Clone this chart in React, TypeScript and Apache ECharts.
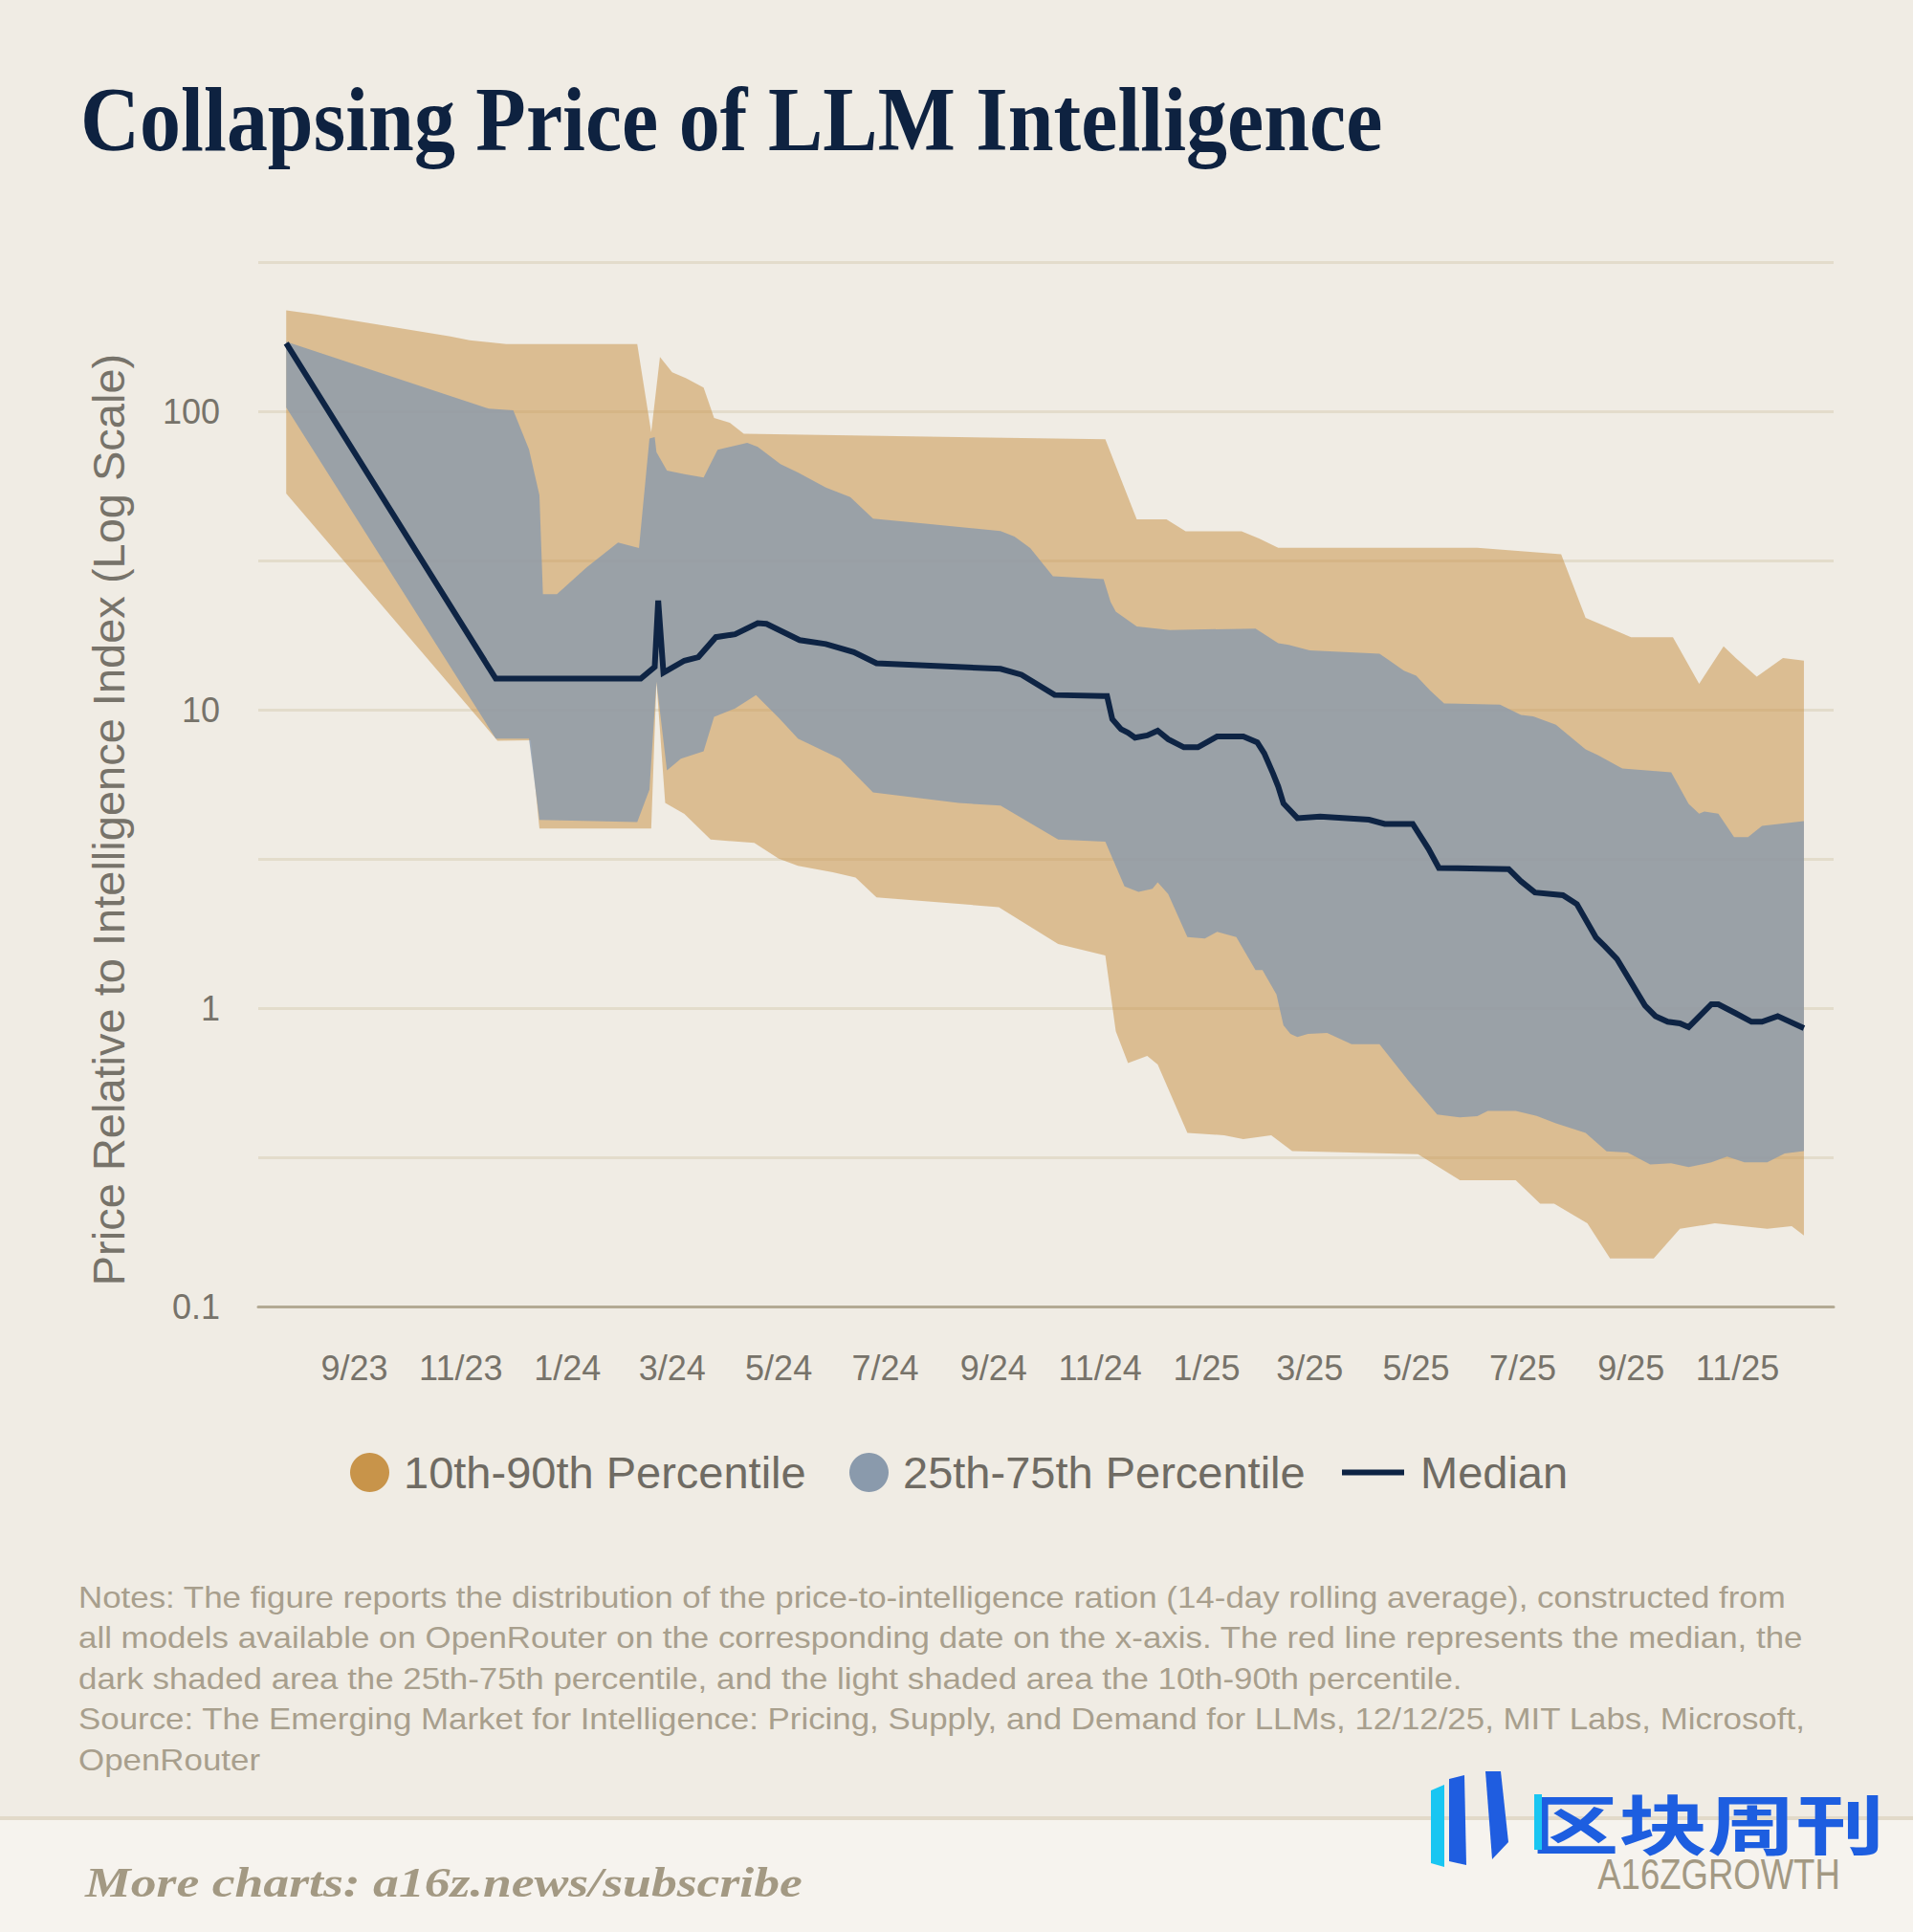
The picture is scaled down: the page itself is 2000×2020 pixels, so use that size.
import React, { useEffect, useRef } from "react";
import * as echarts from "echarts";

// ---- data (date, value) ----
const p90: [string, number][] = [
  ["2023-07-24", 218], ["2023-08-10", 211], ["2023-10-26", 178], ["2023-11-06", 173],
  ["2023-11-27", 168], ["2024-02-10", 168], ["2024-02-18", 85], ["2024-02-23", 152],
  ["2024-03-01", 135], ["2024-03-09", 129], ["2024-03-19", 120], ["2024-03-25", 95],
  ["2024-04-03", 91.6], ["2024-04-11", 84], ["2024-11-04", 80.6], ["2024-11-22", 43.4],
  ["2024-12-09", 43.4], ["2024-12-20", 39.6], ["2025-01-21", 39.6], ["2025-01-31", 37.5],
  ["2025-02-11", 34.9], ["2025-06-05", 34.9], ["2025-07-23", 33.2], ["2025-08-06", 20.3],
  ["2025-08-26", 18.1], ["2025-09-01", 17.5], ["2025-09-25", 17.5], ["2025-10-10", 12.2],
  ["2025-10-24", 16.3], ["2025-10-31", 14.9], ["2025-11-12", 12.9], ["2025-11-27", 14.9],
  ["2025-12-09", 14.6],
];

const p75: [string, number][] = [
  ["2023-07-24", 171], ["2023-11-17", 102], ["2023-12-01", 100.7], ["2023-12-10", 74.6],
  ["2023-12-16", 52.3], ["2023-12-18", 24.4], ["2023-12-26", 24.4], ["2024-01-12", 30],
  ["2024-01-30", 36.3], ["2024-02-11", 34.8], ["2024-02-17", 81], ["2024-02-20", 82],
  ["2024-02-21", 73], ["2024-02-27", 63.3], ["2024-03-08", 61.5], ["2024-03-19", 60],
  ["2024-03-27", 74.3], ["2024-04-13", 78.4], ["2024-04-19", 76], ["2024-05-02", 66.5],
  ["2024-05-12", 62.4], ["2024-05-28", 55.5], ["2024-06-11", 51.6], ["2024-06-24", 43.7],
  ["2024-07-24", 42], ["2024-09-05", 39.7], ["2024-09-13", 38], ["2024-09-22", 34.8],
  ["2024-10-05", 28], ["2024-11-03", 27.4], ["2024-11-07", 23], ["2024-11-10", 21.3],
  ["2024-11-22", 19], ["2024-12-11", 18.5], ["2025-01-29", 18.7], ["2025-02-11", 16.7],
  ["2025-02-17", 16.5], ["2025-03-01", 15.8], ["2025-04-10", 15.4], ["2025-04-15", 14.7],
  ["2025-04-24", 13.5], ["2025-05-01", 13], ["2025-05-09", 11.6], ["2025-05-17", 10.5],
  ["2025-06-18", 10.4], ["2025-06-30", 9.6], ["2025-07-07", 9.5], ["2025-07-20", 8.9],
  ["2025-08-06", 7.36], ["2025-08-13", 7.04], ["2025-08-27", 6.35], ["2025-09-24", 6.17],
  ["2025-10-04", 4.83], ["2025-10-10", 4.48], ["2025-10-13", 4.56], ["2025-10-21", 4.48],
  ["2025-10-30", 3.74], ["2025-11-07", 3.74], ["2025-11-15", 4.08], ["2025-12-09", 4.23],
];

const median: [string, number][] = [
  ["2023-07-24", 169], ["2023-11-21", 12.7], ["2024-02-12", 12.7], ["2024-02-20", 13.9],
  ["2024-02-22", 23.2], ["2024-02-25", 13.3], ["2024-03-08", 14.6], ["2024-03-16", 15.0],
  ["2024-03-26", 17.5], ["2024-04-06", 17.9], ["2024-04-19", 19.5], ["2024-04-24", 19.4],
  ["2024-05-13", 17.1], ["2024-05-28", 16.6], ["2024-06-13", 15.6], ["2024-06-26", 14.3],
  ["2024-09-05", 13.7], ["2024-09-17", 13.1], ["2024-10-06", 11.2], ["2024-11-03", 11.1],
  ["2024-11-05", 11.1], ["2024-11-08", 9.3], ["2024-11-13", 8.6], ["2024-11-17", 8.37],
  ["2024-11-21", 8.06], ["2024-11-28", 8.2], ["2024-12-04", 8.5], ["2024-12-10", 7.96],
  ["2024-12-19", 7.48], ["2024-12-27", 7.48], ["2025-01-07", 8.13], ["2025-01-22", 8.13],
  ["2025-01-30", 7.77], ["2025-02-03", 7.14], ["2025-02-08", 6.12], ["2025-02-11", 5.53],
  ["2025-02-14", 4.85], ["2025-02-22", 4.33], ["2025-03-07", 4.38], ["2025-04-04", 4.28],
  ["2025-04-13", 4.14], ["2025-04-29", 4.14], ["2025-05-08", 3.42], ["2025-05-14", 2.95],
  ["2025-06-23", 2.92], ["2025-06-30", 2.66], ["2025-07-08", 2.44], ["2025-07-24", 2.39],
  ["2025-08-01", 2.23], ["2025-08-12", 1.72], ["2025-08-17", 1.61], ["2025-08-24", 1.46],
  ["2025-09-09", 1.02], ["2025-09-15", 0.94], ["2025-09-22", 0.9], ["2025-09-29", 0.889],
  ["2025-10-04", 0.863], ["2025-10-17", 1.03], ["2025-10-21", 1.03], ["2025-10-31", 0.96],
  ["2025-11-09", 0.9], ["2025-11-15", 0.9], ["2025-11-24", 0.94], ["2025-12-09", 0.857],
];

const p25: [string, number][] = [
  ["2023-07-24", 103], ["2023-11-21", 8.0], ["2023-12-10", 8.0], ["2023-12-16", 4.27],
  ["2024-02-10", 4.2], ["2024-02-17", 5.4], ["2024-02-21", 12.4], ["2024-02-27", 6.26],
  ["2024-03-06", 6.85], ["2024-03-19", 7.26], ["2024-03-25", 9.46], ["2024-04-06", 10.1],
  ["2024-04-18", 11.2], ["2024-05-01", 9.4], ["2024-05-12", 8.0], ["2024-06-05", 6.85],
  ["2024-06-24", 5.28], ["2024-08-12", 4.87], ["2024-09-05", 4.77], ["2024-10-08", 3.67],
  ["2024-11-04", 3.61], ["2024-11-15", 2.56], ["2024-11-23", 2.45], ["2024-12-01", 2.51],
  ["2024-12-04", 2.64], ["2024-12-10", 2.41], ["2024-12-21", 1.73], ["2024-12-31", 1.71],
  ["2025-01-07", 1.8], ["2025-01-18", 1.73], ["2025-01-29", 1.34], ["2025-02-02", 1.34],
  ["2025-02-10", 1.11], ["2025-02-14", 0.875], ["2025-02-18", 0.82], ["2025-02-22", 0.8],
  ["2025-02-28", 0.82], ["2025-03-11", 0.826], ["2025-03-25", 0.757], ["2025-04-10", 0.757],
  ["2025-04-27", 0.566], ["2025-05-13", 0.44], ["2025-05-26", 0.43], ["2025-06-05", 0.434],
  ["2025-06-11", 0.452], ["2025-06-27", 0.452], ["2025-07-09", 0.435], ["2025-07-20", 0.411],
  ["2025-08-06", 0.382], ["2025-08-18", 0.331], ["2025-08-30", 0.328], ["2025-09-12", 0.299],
  ["2025-09-24", 0.302], ["2025-10-04", 0.293], ["2025-10-17", 0.304], ["2025-10-26", 0.318],
  ["2025-11-05", 0.304], ["2025-11-18", 0.304], ["2025-11-28", 0.326], ["2025-12-09", 0.332],
];

const p10: [string, number][] = [
  ["2023-07-24", 53], ["2023-11-22", 7.87], ["2023-12-11", 7.9], ["2023-12-16", 4.0],
  ["2024-02-18", 4.0], ["2024-02-21", 12.4], ["2024-02-26", 4.87], ["2024-03-08", 4.47],
  ["2024-03-23", 3.67], ["2024-04-17", 3.58], ["2024-05-01", 3.17], ["2024-05-12", 3.0],
  ["2024-06-01", 2.85], ["2024-06-14", 2.74], ["2024-06-26", 2.35], ["2024-09-04", 2.18],
  ["2024-10-08", 1.64], ["2024-11-04", 1.5], ["2024-11-10", 0.836], ["2024-11-17", 0.654],
  ["2024-11-28", 0.692], ["2024-12-04", 0.647], ["2024-12-21", 0.382], ["2025-01-11", 0.375],
  ["2025-01-22", 0.364], ["2025-02-07", 0.375], ["2025-02-19", 0.332], ["2025-05-02", 0.324],
  ["2025-05-26", 0.265], ["2025-06-27", 0.265], ["2025-07-11", 0.221], ["2025-07-19", 0.221],
  ["2025-08-07", 0.19], ["2025-08-20", 0.145], ["2025-09-14", 0.145], ["2025-09-29", 0.182],
  ["2025-10-19", 0.19], ["2025-11-18", 0.182], ["2025-12-02", 0.186], ["2025-12-09", 0.173],
];

const xTickDates = [
  "2023-09-01", "2023-11-01", "2024-01-01", "2024-03-01", "2024-05-01", "2024-07-01",
  "2024-09-01", "2024-11-01", "2025-01-01", "2025-03-01", "2025-05-01", "2025-07-01",
  "2025-09-01", "2025-11-01",
];
const xRange = ["2023-07-08", "2025-12-26"];
const yRange = [0.1, 316.227766];

const seriesNames = ["10th-90th Percentile", "25th-75th Percentile", "Median"];

const title = "Collapsing Price of LLM Intelligence";
const yTitle = "Price Relative to Intelligence Index (Log Scale)";
const notes = [
  "Notes: The figure reports the distribution of the price-to-intelligence ration (14-day rolling average), constructed from",
  "all models available on OpenRouter on the corresponding date on the x-axis. The red line represents the median, the",
  "dark shaded area the 25th-75th percentile, and the light shaded area the 10th-90th percentile.",
  "Source: The Emerging Market for Intelligence: Pricing, Supply, and Demand for LLMs, 12/12/25, MIT Labs, Microsoft,",
  "OpenRouter",
];
const footerText = "More charts: a16z.news/subscribe";

// ---- helpers ----
const ts = (s: string) => {
  const [y, m, d] = s.split("-").map(Number);
  return Date.UTC(y, m - 1, d);
};

const BG = "#f0ece4";
const ORANGE_FILL = "rgba(200,148,74,0.53)";
const GRAY_FILL = "rgba(138,154,172,0.8)";
const NAVY = "#0e2444";
const AXIS_TEXT = "#77736a";
const SANS = '"Liberation Sans", Arial, sans-serif';
const SERIF = '"Liberation Serif", "Times New Roman", serif';

function bandSeries(name: string, upper: [string, number][], lower: [string, number][], fill: string, z: number) {
  return {
    type: "custom",
    name,
    coordinateSystem: "cartesian2d",
    z,
    clip: true,
    silent: true,
    itemStyle: { color: fill },
    encode: { x: 0, y: 1 },
    data: [[ts(upper[0][0]), upper[0][1]]],
    renderItem: (_params: any, api: any) => {
      const pts: number[][] = [];
      upper.forEach(([d, v]) => pts.push(api.coord([ts(d), v])));
      for (let i = lower.length - 1; i >= 0; i--) pts.push(api.coord([ts(lower[i][0]), lower[i][1]]));
      return { type: "polygon", shape: { points: pts }, style: { fill } };
    },
  };
}

function buildOption() {
  const legendText = { fontSize: 47, color: "#6f6b63", fontFamily: SANS };
  const graphics: any[] = [
    {
      type: "text", x: 84, y: 125, scaleY: 1.12,
      style: { text: title, font: `bold 86px ${SERIF}`, fill: "#0e2240", verticalAlign: "middle", align: "left" },
    },
    {
      type: "text", x: 113, y: 857, rotation: Math.PI / 2,
      style: { text: yTitle, font: `47px ${SANS}`, fill: AXIS_TEXT, verticalAlign: "middle", align: "center" },
    },
    { type: "rect", shape: { x: 0, y: 1903, width: 2000, height: 117 }, style: { fill: "#f6f3ee" }, z: -10 },
    { type: "rect", shape: { x: 0, y: 1899, width: 2000, height: 4 }, style: { fill: "#e2dac9" }, z: -9 },
    {
      type: "text", x: 89, y: 1968, scaleX: 1.22,
      style: { text: footerText, font: `italic bold 44px ${SERIF}`, fill: "#a39983", verticalAlign: "middle", align: "left" },
    },
    { type: "polygon", shape: { points: [[1496, 1872], [1510, 1866], [1510, 1952], [1496, 1948]] }, style: { fill: "#19c6f2" } },
    { type: "polygon", shape: { points: [[1515, 1860], [1531, 1856], [1533, 1950], [1515, 1946]] }, style: { fill: "#1f5de0" } },
    { type: "polygon", shape: { points: [[1553, 1852], [1569, 1852], [1577, 1926], [1560, 1944]] }, style: { fill: "#1f5de0" } },
    {
      type: "text", x: 1600, y: 1904, scaleX: 1.36,
      style: { text: "区块周刊", font: `bold 68px "Noto Sans CJK SC"`, fill: "#1d5ee0", verticalAlign: "middle", align: "left" },
    },
    { type: "rect", shape: { x: 1604, y: 1876, width: 8, height: 58 }, style: { fill: "#19c6f2" } },
    {
      type: "text", x: 1797, y: 1960, scaleX: 0.83,
      style: { text: "A16ZGROWTH", font: `44px ${SANS}`, fill: "#a39983", verticalAlign: "middle", align: "center" },
    },
  ];
  notes.forEach((line, i) => {
    graphics.push({
      type: "text", x: 82, y: 1670 + 42.4 * i, scaleX: 1.09,
      style: { text: line, font: `32px ${SANS}`, fill: "#a89f8d", verticalAlign: "middle", align: "left" },
    });
  });

  return {
    animation: false,
    backgroundColor: BG,
    grid: { left: 270, right: 83, top: 274, bottom: 654, containLabel: false },
    legend: [
      {
        left: 366, top: 1516, padding: 0, itemWidth: 61, itemHeight: 41, selectedMode: false,
        textStyle: legendText,
        data: [{ name: seriesNames[0], icon: "circle", itemStyle: { color: "#c8944a", opacity: 1 } }],
      },
      {
        left: 888, top: 1516, padding: 0, itemWidth: 61, itemHeight: 41, selectedMode: false,
        textStyle: legendText,
        data: [{ name: seriesNames[1], icon: "circle", itemStyle: { color: "#8a9aac", opacity: 1 } }],
      },
      {
        left: 1403, top: 1516, padding: 0, itemWidth: 65, itemHeight: 6, selectedMode: false,
        textStyle: { ...legendText, padding: [0, 0, 0, 12] },
        data: [{ name: seriesNames[2], icon: "rect", itemStyle: { color: NAVY } }],
      },
    ],
    xAxis: {
      type: "value",
      min: ts(xRange[0]),
      max: ts(xRange[1]),
      axisLine: { show: true, lineStyle: { color: "#b3aa94", width: 3 } },
      axisTick: { show: false },
      splitLine: { show: false },
      axisLabel: {
        customValues: xTickDates.map(ts),
        margin: 46,
        fontSize: 36,
        fontFamily: SANS,
        color: AXIS_TEXT,
        hideOverlap: false,
        formatter: (v: number) => {
          const d = new Date(v);
          return `${d.getUTCMonth() + 1}/${String(d.getUTCFullYear()).slice(2)}`;
        },
      },
    },
    yAxis: {
      type: "log",
      logBase: Math.sqrt(10),
      min: yRange[0],
      max: yRange[1],
      axisLine: { show: false },
      axisTick: { show: false },
      splitLine: { show: true, lineStyle: { color: "#e3dccb", width: 3 } },
      axisLabel: {
        margin: 40,
        fontSize: 36,
        fontFamily: SANS,
        color: AXIS_TEXT,
        formatter: (v: number) => {
          const l = Math.log10(v);
          const r = Math.round(l);
          if (Math.abs(l - r) > 0.01) return "";
          return r < 0 ? "0.1" : String(Math.pow(10, r));
        },
      },
    },
    series: [
      bandSeries(seriesNames[0], p90, p10, ORANGE_FILL, 2),
      bandSeries(seriesNames[1], p75, p25, GRAY_FILL, 3),
      {
        type: "line",
        name: seriesNames[2],
        z: 5,
        showSymbol: false,
        symbol: "none",
        silent: true,
        lineStyle: { color: NAVY, width: 6, join: "miter" },
        itemStyle: { color: NAVY },
        data: median.map(([d, v]) => [ts(d), v]),
      },
    ],
    graphic: { elements: graphics },
  };
}

export default function App() {
  const ref = useRef<HTMLDivElement>(null);
  useEffect(() => {
    if (!ref.current) return;
    const chart = echarts.init(ref.current, null, { renderer: "svg", width: 2000, height: 2020 });
    chart.setOption(buildOption() as any);
    return () => chart.dispose();
  }, []);
  return <div ref={ref} style={{ position: "absolute", left: 0, top: 0, width: 2000, height: 2020 }} />;
}
